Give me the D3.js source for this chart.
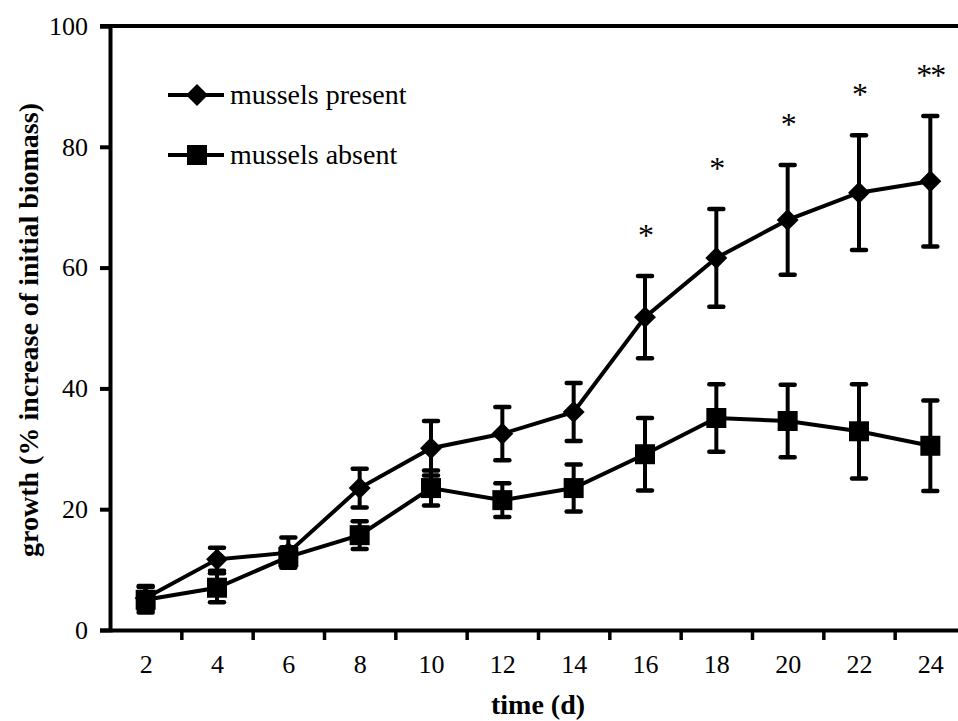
<!DOCTYPE html>
<html>
<head>
<meta charset="utf-8">
<script src="https://cdn.jsdelivr.net/npm/d3@7"></script>
<style>
  body { margin: 0; background: #fff; }
  svg { display: block; }
  text { font-family: "Liberation Serif", "Times New Roman", serif; fill: #000; }
</style>
</head>
<body>
<div class="chart"></div>
<script>
// growth of algae with / without mussels, mean +- SE

const days = [2, 4, 6, 8, 10, 12, 14, 16, 18, 20, 22, 24]
const presentMean = [5.3, 11.7, 12.8, 23.5, 30.1, 32.5, 36.1, 51.8, 61.6, 67.9, 72.4, 74.3]
const presentErr = [2.0, 1.9, 2.5, 3.2, 4.5, 4.4, 4.8, 6.8, 8.1, 9.1, 9.5, 10.8]
const absentMean = [5.0, 7.0, 12.1, 15.7, 23.5, 21.5, 23.5, 29.1, 35.1, 34.6, 32.9, 30.5]
const absentErr = [2.1, 2.4, 1.6, 2.3, 2.9, 2.8, 3.9, 6.0, 5.6, 6.0, 7.8, 7.5]
const signif = ['', '', '', '', '', '', '', '*', '*', '*', '*', '**']
const yTicks = [0, 20, 40, 60, 80, 100]
const seriesNames = ['mussels present', 'mussels absent']

const W = 958
const H = 721
const margin = { top: 26, left: 110, bottom: 91 }
const plotW = 856
const plotH = H - margin.top - margin.bottom

const svg = d3.select('.chart')
  .append('svg')
    .attr('width', W)
    .attr('height', H)

const g = svg.append('g')
  .attr('transform', `translate(${margin.left}, ${margin.top})`)

const x = d3.scaleLinear()
  .domain([1, 25])
  .range([0, plotW])

const y = d3.scaleLinear()
  .domain([0, 100])
  .range([plotH, 0])

// y axis
const yAxis = d3.axisLeft(y)
  .tickValues(yTicks)
  .tickSize(10)
  .tickPadding(12)
g.append('g').call(yAxis)
  .call(s => s.select('.domain').attr('stroke-width', 4))
  .call(s => s.selectAll('.tick line').attr('stroke-width', 4))
  .call(s => s.selectAll('.tick text')
    .attr('font-size', 26)
    .attr('font-family', '"Liberation Serif", serif'))

// x axis: ticks between categories, labels centred
const xAxisTicks = d3.axisBottom(x)
  .tickValues(d3.range(3, 26, 2))
  .tickFormat('')
  .tickSize(10)
  .tickSizeOuter(0)
g.append('g')
  .attr('transform', `translate(0, ${plotH})`)
  .call(xAxisTicks)
  .call(s => s.select('.domain').attr('stroke-width', 4))
  .call(s => s.selectAll('.tick line').attr('stroke-width', 3.5))

const xAxisLabels = d3.axisBottom(x)
  .tickValues(days)
  .tickSize(0)
  .tickPadding(25)
g.append('g')
  .attr('transform', `translate(0, ${plotH})`)
  .call(xAxisLabels)
  .call(s => s.select('.domain').remove())
  .call(s => s.selectAll('.tick text')
    .attr('font-size', 26)
    .attr('font-family', '"Liberation Serif", serif'))

// top frame line
g.append('line')
  .attr('x1', -10).attr('x2', plotW)
  .attr('y1', 0).attr('y2', 0)
  .attr('stroke', '#000')
  .attr('stroke-width', 4)

// diamond = square turned 45 degrees
const series = [
  { name: seriesNames[0], mean: presentMean, err: presentErr, symbol: d3.symbolSquare, size: 240, rot: 45 },
  { name: seriesNames[1], mean: absentMean, err: absentErr, symbol: d3.symbolSquare, size: 400, rot: 0 }
]

const line = d3.line()
  .x((d, i) => x(days[i]))
  .y(d => y(d))

series.forEach(s => {
  const eb = g.append('g')
  days.forEach((day, i) => {
    const cx = x(day)
    const top = y(s.mean[i] + s.err[i])
    const bot = y(s.mean[i] - s.err[i])
    eb.append('line')
      .attr('x1', cx).attr('x2', cx)
      .attr('y1', top).attr('y2', bot)
      .attr('stroke', '#000').attr('stroke-width', 4)
    ;[top, bot].forEach(yy => {
      eb.append('line')
        .attr('x1', cx - 7).attr('x2', cx + 7)
        .attr('y1', yy).attr('y2', yy)
        .attr('stroke', '#000').attr('stroke-width', 4.5)
        .attr('stroke-linecap', 'round')
    })
  })

  g.append('path')
    .datum(s.mean)
    .attr('d', line)
    .attr('fill', 'none')
    .attr('stroke', '#000')
    .attr('stroke-width', 4)

  g.selectAll(null)
    .data(s.mean)
    .join('path')
      .attr('d', d3.symbol().type(s.symbol).size(s.size))
      .attr('transform', (d, i) => `translate(${x(days[i])}, ${y(d)}) rotate(${s.rot})`)
      .attr('fill', '#000')
})

// significance stars
g.selectAll(null)
  .data(days)
  .join('text')
    .filter((d, i) => signif[i] !== '')
    .attr('x', d => x(d))
    .attr('y', d => y(presentMean[days.indexOf(d)] + presentErr[days.indexOf(d)]) - 30)
    .attr('text-anchor', 'middle')
    .attr('font-size', 32)
    .attr('letter-spacing', -2)
    .text(d => signif[days.indexOf(d)])

// legend
const legend = svg.append('g')
  .attr('transform', 'translate(168, 95)')
series.forEach((s, i) => {
  const row = legend.append('g').attr('transform', `translate(0, ${i * 60})`)
  row.append('line')
    .attr('x1', 0).attr('x2', 56)
    .attr('stroke', '#000').attr('stroke-width', 4)
  row.append('path')
    .attr('d', d3.symbol().type(s.symbol).size(s.size))
    .attr('transform', `translate(29, 0) rotate(${s.rot})`)
  row.append('text')
    .attr('x', 62)
    .attr('dy', '0.33em')
    .attr('font-size', 28)
    .text(s.name)
})

// axis titles
svg.append('text')
  .attr('transform', 'translate(38, 330) rotate(-90)')
  .attr('text-anchor', 'middle')
  .attr('font-size', 28)
  .attr('font-weight', 'bold')
  .text('growth (% increase of initial biomass)')

svg.append('text')
  .attr('x', 538)
  .attr('y', 714)
  .attr('text-anchor', 'middle')
  .attr('font-size', 28)
  .attr('font-weight', 'bold')
  .text('time (d)')
</script>
</body>
</html>
